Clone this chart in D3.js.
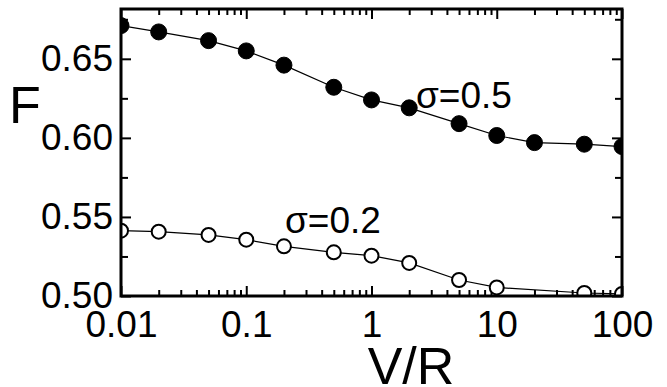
<!DOCTYPE html>
<html>
<head>
<meta charset="utf-8">
<script src="https://cdn.jsdelivr.net/npm/d3@7"></script>
<style>
  html, body { margin: 0; padding: 0; background: #fff; }
  svg { display: block; }
  text { font-family: "Liberation Sans", Arial, sans-serif; fill: #000; }
</style>
</head>
<body>
<svg id="chart" width="667" height="387"></svg>
<script>
// ---- data ----
const vrSigma05 = [0.01, 0.02, 0.05, 0.1, 0.2, 0.5, 1, 2, 5, 10, 20, 50, 100];
const fSigma05  = [0.671, 0.667, 0.6615, 0.655, 0.646, 0.632, 0.624, 0.619, 0.609, 0.6015, 0.597, 0.596, 0.5945];
const vrSigma02 = [0.01, 0.02, 0.05, 0.1, 0.2, 0.5, 1, 2, 5, 10, 50, 100];
const fSigma02  = [0.5413, 0.5407, 0.5386, 0.5356, 0.5314, 0.5276, 0.5255, 0.5209, 0.5101, 0.5054, 0.5019, 0.5013];
const xTickValues = [0.01, 0.1, 1, 10, 100];
const xTickLabels = ["0.01", "0.1", "1", "10", "100"];
const yTickValues = [0.50, 0.55, 0.60, 0.65];
const yTickLabels = ["0.50", "0.55", "0.60", "0.65"];
const yMinorValues = [0.525, 0.575, 0.625, 0.675];
const seriesLabels = ["σ=0.5", "σ=0.2"];
const xTitle = "V/R";
const yTitle = "F";

// ---- layout ----
const L = 121, R = 622, T = 9, B = 296;
const svg = d3.select("#chart");

const x = d3.scaleLog().domain([0.01, 100]).range([L, R]);
const y = d3.scaleLinear().domain([0.5, 0.6815]).range([B, T]);

// minor x ticks 2..9 per decade
const xMinor = [];
for (let e = -2; e < 2; e++) for (let m = 2; m <= 9; m++) xMinor.push(m * Math.pow(10, e));

function styleAxis(g) {
  g.select(".domain").remove();
  g.selectAll(".tick line").attr("stroke", "#000").attr("stroke-width", 2);
}

// bottom major
const gxb = svg.append("g").attr("transform", `translate(0,${B})`)
  .call(d3.axisBottom(x).tickValues(xTickValues).tickSizeInner(-10).tickSizeOuter(0)
    .tickFormat((d, i) => xTickLabels[i]));
styleAxis(gxb);
gxb.selectAll("text").attr("y", 41).attr("dy", 0).attr("font-size", 37)
  .attr("font-family", "Liberation Sans, Arial, sans-serif").attr("fill", "#000");
// bottom minor
styleAxis(svg.append("g").attr("transform", `translate(0,${B})`)
  .call(d3.axisBottom(x).tickValues(xMinor).tickSizeInner(-6).tickSizeOuter(0).tickFormat("")));
// top major/minor
styleAxis(svg.append("g").attr("transform", `translate(0,${T})`)
  .call(d3.axisTop(x).tickValues(xTickValues).tickSizeInner(-10).tickSizeOuter(0).tickFormat("")));
styleAxis(svg.append("g").attr("transform", `translate(0,${T})`)
  .call(d3.axisTop(x).tickValues(xMinor).tickSizeInner(-6).tickSizeOuter(0).tickFormat("")));

// left major
const gyl = svg.append("g").attr("transform", `translate(${L},0)`)
  .call(d3.axisLeft(y).tickValues(yTickValues).tickSizeInner(-10).tickSizeOuter(0).tickPadding(8)
    .tickFormat((d, i) => yTickLabels[i]));
styleAxis(gyl);
gyl.selectAll("text").attr("font-size", 37)
  .attr("font-family", "Liberation Sans, Arial, sans-serif").attr("fill", "#000");
styleAxis(svg.append("g").attr("transform", `translate(${L},0)`)
  .call(d3.axisLeft(y).tickValues(yMinorValues).tickSizeInner(-7).tickSizeOuter(0).tickFormat("")));
// right
styleAxis(svg.append("g").attr("transform", `translate(${R},0)`)
  .call(d3.axisRight(y).tickValues(yTickValues).tickSizeInner(-10).tickSizeOuter(0).tickFormat("")));
styleAxis(svg.append("g").attr("transform", `translate(${R},0)`)
  .call(d3.axisRight(y).tickValues(yMinorValues).tickSizeInner(-7).tickSizeOuter(0).tickFormat("")));

// clip
svg.append("clipPath").attr("id", "clip").append("rect")
  .attr("x", L).attr("y", T).attr("width", R - L).attr("height", B - T);
const plot = svg.append("g").attr("clip-path", "url(#clip)");

const line = d3.line().x(d => x(d[0])).y(d => y(d[1]));
const d05 = vrSigma05.map((v, i) => [v, fSigma05[i]]);
const d02 = vrSigma02.map((v, i) => [v, fSigma02[i]]);

plot.append("path").datum(d05).attr("d", line).attr("fill", "none").attr("stroke", "#000").attr("stroke-width", 1.2);
plot.append("path").datum(d02).attr("d", line).attr("fill", "none").attr("stroke", "#000").attr("stroke-width", 1.2);

plot.selectAll("circle.f").data(d05).enter().append("circle")
  .attr("cx", d => x(d[0])).attr("cy", d => y(d[1])).attr("r", 8)
  .attr("fill", "#000").attr("stroke", "#000").attr("stroke-width", 1);
plot.selectAll("circle.o").data(d02).enter().append("circle")
  .attr("cx", d => x(d[0])).attr("cy", d => y(d[1])).attr("r", 7)
  .attr("fill", "#fff").attr("stroke", "#000").attr("stroke-width", 2);

// frame
svg.append("rect").attr("x", L).attr("y", T).attr("width", R - L).attr("height", B - T)
  .attr("fill", "none").attr("stroke", "#000").attr("stroke-width", 3);

// series labels
svg.append("text").attr("x", 416).attr("y", 108).attr("font-size", 37).text(seriesLabels[0]);
svg.append("text").attr("x", 285).attr("y", 233).attr("font-size", 37).text(seriesLabels[1]);

// axis titles
svg.append("text").attr("x", 411).attr("y", 384).attr("text-anchor", "middle").attr("font-size", 52).text(xTitle);
svg.append("text").attr("x", 9).attr("y", 123).attr("font-size", 52).text(yTitle);
</script>
</body>
</html>
